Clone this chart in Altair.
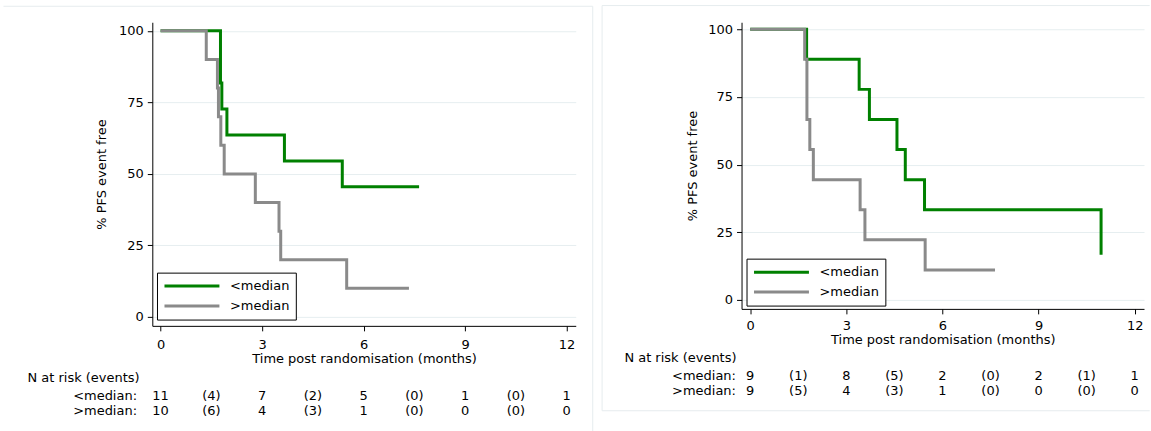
import altair as alt
import pandas as pd

FONT = "DejaVu Sans"

groups = ["<median", ">median"]
colors = ["#008000", "#8a8a8a"]

# Left panel: Kaplan-Meier steps (time in months, % PFS event free)
L_lt_t = [0, 1.77, 1.81, 1.96, 3.66, 5.37, 7.64]
L_lt_s = [100, 81.8, 72.7, 63.6, 54.5, 45.5, 45.5]
L_gt_t = [0, 1.35, 1.68, 1.71, 1.78, 1.88, 2.80, 3.50, 3.55, 5.50, 7.34]
L_gt_s = [100, 90, 80, 70, 60, 50, 40, 30, 20, 10, 10]

# Right panel
R_lt_t = [0, 1.76, 3.40, 3.72, 4.58, 4.84, 5.44, 10.95]
R_lt_s = [100, 88.9, 77.8, 66.7, 55.6, 44.4, 33.3, 16.7]
R_gt_t = [0, 1.70, 1.77, 1.86, 1.97, 3.43, 3.58, 5.46, 7.64]
R_gt_s = [100, 88.9, 66.7, 55.6, 44.4, 33.3, 22.2, 11.1, 11.1]

# Risk tables
risk_times = [0, 1.5, 3, 4.5, 6, 7.5, 9, 10.5, 12]
L_risk_lt = ["11", "(4)", "7", "(2)", "5", "(0)", "1", "(0)", "1"]
L_risk_gt = ["10", "(6)", "4", "(3)", "1", "(0)", "0", "(0)", "0"]
R_risk_lt = ["9", "(1)", "8", "(5)", "2", "(0)", "2", "(1)", "1"]
R_risk_gt = ["9", "(5)", "4", "(3)", "1", "(0)", "0", "(0)", "0"]

x_ticks = [0, 3, 6, 9, 12]
y_ticks = [0, 25, 50, 75, 100]
x_title = "Time post randomisation (months)"
y_title = "% PFS event free"
risk_title = "N at risk (events)"
row_labels = ["<median:", ">median:"]

BORDER = "#e6ecee"


def rule(**kw):
    enc = {k: alt.value(v) for k, v in kw.items()}
    return alt.Chart(pd.DataFrame({"a": [0]})).mark_rule(color=BORDER, strokeWidth=1).encode(**enc)


def panel(lt_t, lt_s, gt_t, gt_s, risk_lt, risk_gt, W, H, xdom, ydom,
          leg_xy, lab_right, nrisk_left, rows_y, ytpad, xlpad, borders):
    curves = pd.DataFrame({
        "t": lt_t + gt_t,
        "s": lt_s + gt_s,
        "g": [groups[0]] * len(lt_t) + [groups[1]] * len(gt_t),
    })
    xs = alt.Scale(domain=xdom, nice=False, zero=False)
    ys = alt.Scale(domain=ydom, nice=False, zero=False)
    xaxis = alt.Axis(values=x_ticks, title=x_title, grid=False, labelPadding=xlpad,
                     titlePadding=1, tickSize=5)
    yaxis = alt.Axis(values=y_ticks, title=y_title, grid=True, labelPadding=4,
                     titlePadding=ytpad, tickSize=5)
    lines = alt.Chart(curves).mark_line(interpolate="step-after", strokeWidth=3).encode(
        x=alt.X("t:Q", scale=xs, axis=xaxis),
        y=alt.Y("s:Q", scale=ys, axis=yaxis),
        color=alt.Color("g:N", scale=alt.Scale(domain=groups, range=colors),
                        legend=alt.Legend(orient="none", legendX=leg_xy[0], legendY=leg_xy[1],
                                          title=None, symbolType="stroke", symbolSize=3025,
                                          symbolStrokeWidth=3, strokeColor="black",
                                          fillColor="white", padding=6, rowPadding=5,
                                          clipHeight=15, labelOffset=9, labelFont=FONT,
                                          labelFontSize=13, labelColor="black",
                                          symbolOpacity=1)),
    )
    layers = [lines]
    for vals, yy in ((risk_lt, rows_y[1]), (risk_gt, rows_y[2])):
        df = pd.DataFrame({"t": risk_times, "lab": vals})
        layers.append(alt.Chart(df).mark_text(font=FONT, fontSize=13, color="black",
                                              align="center", baseline="middle").encode(
            x=alt.X("t:Q", scale=xs, axis=xaxis),
            y=alt.value(yy),
            text="lab:N",
        ))
    layers.append(alt.Chart(pd.DataFrame({"lab": [risk_title]})).mark_text(
        font=FONT, fontSize=13, color="black", align="left", baseline="middle").encode(
        x=alt.value(nrisk_left), y=alt.value(rows_y[0]), text="lab:N"))
    for lab, yy in zip(row_labels, rows_y[1:]):
        layers.append(alt.Chart(pd.DataFrame({"lab": [lab]})).mark_text(
            font=FONT, fontSize=13, color="black", align="right", baseline="middle").encode(
            x=alt.value(lab_right), y=alt.value(yy), text="lab:N"))
    for b in borders:
        layers.append(rule(**b))
    return alt.layer(*layers).properties(width=W, height=H)


left = panel(L_lt_t, L_lt_s, L_gt_t, L_gt_s, L_risk_lt, L_risk_gt,
             W=424, H=304, xdom=[-0.245, 12.27], ydom=[-3.1, 103.0],
             leg_xy=(4.7, 250.7), lab_right=-15.3, nrisk_left=-125,
             rows_y=(356.3, 374.0, 389.7), ytpad=10, xlpad=8,
             borders=[dict(x=-149, x2=441, y=-16), dict(x=441, y=-16, y2=410)])

right = panel(R_lt_t, R_lt_s, R_gt_t, R_gt_s, R_risk_lt, R_risk_gt,
              W=403, H=287, xdom=[-0.271, 12.29], ydom=[-3.3, 102.6],
              leg_xy=(5, 236.7), lab_right=-5.6, nrisk_left=-117.3,
              rows_y=(336.3, 354.0, 369.0), ytpad=8, xlpad=6,
              borders=[dict(x=-139.6, x2=408.7, y=-16.7),
                       dict(x=-139.6, y=-16.7, y2=389),
                       dict(x=-139.6, x2=408.7, y=389)])

chart = alt.hconcat(left, right, spacing=166, bounds="flush").resolve_legend(
    color="independent"
).properties(
    padding={"left": 2.5, "top": 4, "right": 0, "bottom": 0}
).configure_view(stroke=None).configure_axis(
    domainColor="black", tickColor="black", labelFont=FONT, labelFontSize=13,
    labelColor="black", titleFont=FONT, titleFontSize=13, titleFontWeight="normal",
    titleColor="black", gridColor="#e6eef0", domainWidth=1, tickWidth=1
)

chart.save("out.html", embed_options={"renderer": "svg", "actions": False})
